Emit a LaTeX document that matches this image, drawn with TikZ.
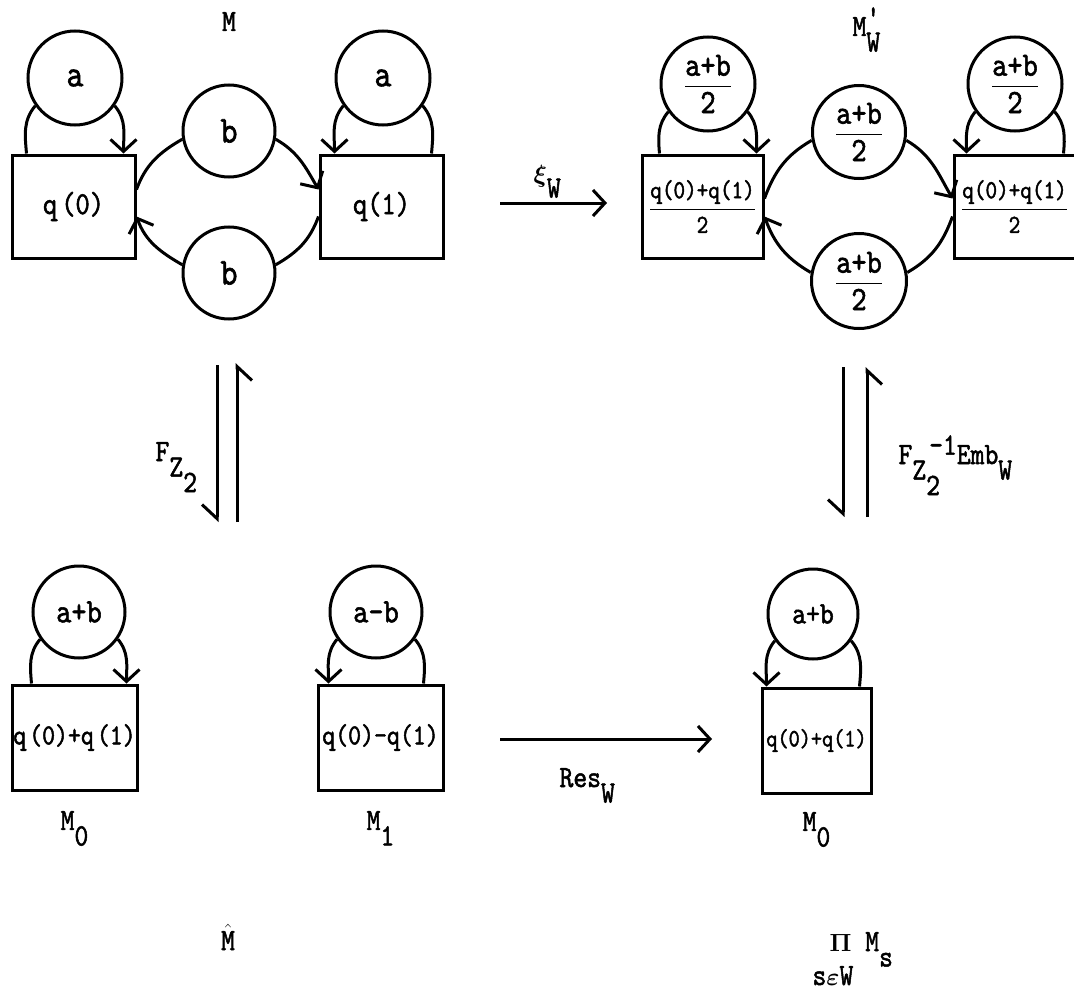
\documentclass[tikz,border=0pt]{standalone}
\usepackage{amsmath}
\usepackage{fontspec}
\usepackage{tikz}
\usetikzlibrary{arrows.meta, positioning}
\newfontfamily\tw{lmmono10-regular.otf}[FakeStretch=0.85, FakeBold=1.6]
\newcommand{\lo}[1]{\raisebox{-0.5em}{#1}}
\newcommand{\half}[1]{$\genfrac{}{}{1.6pt}{0}{\text{#1}}{\text{2}}$}
\newcommand{\fs}[1]{\fontsize{#1}{#1}\selectfont\tw}

\begin{document}
\begin{tikzpicture}[x=1pt, y=1pt,
        font=\fs{31},
        box/.style={draw, rectangle, line width=3pt, minimum width=123pt, minimum height=103pt, inner sep=0pt, font=\fs{29}},
        disc/.style={draw, circle, line width=3pt, minimum size=92pt, inner sep=0pt, font=\fs{34}},
        wire/.style={draw, line width=3pt},
        line/.style={wire, -{Straight Barb[length=12pt, width=26pt]}},
        half/.style={wire, -{Straight Barb[harpoon, swap, length=14pt, width=30pt]}}]

    \useasboundingbox (0,0) rectangle (1074,-990);

    % module M
    \node [anchor=base] at (229,-31) (labM) {M};
    \node [box, font=\fs{32}] at (73.5,-206.5) (q0) {q\kern4pt(0)};
    \node [box, font=\fs{32}] at (381.5,-206.5) (q1) {q(1)};
    \node [disc, font=\fs{38}, minimum size=94pt] at (75,-78) (a0) {a};
    \node [disc, font=\fs{38}, minimum size=94pt] at (383,-78) (a1) {a};
    \node [disc, font=\fs{38}] at (229,-131) (bt) {b};
    \node [disc, font=\fs{38}] at (229,-273) (bb) {b};

    % module M'_W
    \node [anchor=base west] at (849,-36) (labMW) {M\rlap{\raisebox{0.3em}{'}}\lo{W}};
    \node [box, font=\fs{26}, minimum width=121pt] at (702.5,-206.5) (p0) {\half{q(0)+q(1)}};
    \node [box, font=\fs{26}, minimum width=121pt] at (1014.5,-206.5) (p1) {\half{q(0)+q(1)}};
    \node [disc, minimum size=94pt] at (708,-84) (c0) {\half{a+b}};
    \node [disc, minimum size=94pt] at (1015,-84) (c1) {\half{a+b}};
    \node [disc, minimum size=93pt] at (859,-132) (ct) {\half{a+b}};
    \node [disc, minimum size=95pt] at (859,-281) (cb) {\half{a+b}};

    % modules M_0, M_1, M_0
    \node [disc] at (79,-612) (n0) {a+b};
    \node [box, minimum width=125pt, minimum height=105pt] at (74.5,-737.5) (r0) {q\kern3pt(0)+q\kern3pt(1)};
    \node [disc] at (376,-612) (n1) {a-b};
    \node [box, minimum width=125pt, minimum height=105pt] at (380.5,-737.5) (r1) {q(0)-q(1)};
    \node [disc, minimum size=90pt, font=\fs{31}] at (813,-614) (n2) {a+b};
    \node [box, minimum width=109pt, minimum height=105pt, font=\fs{25}] at (816.5,-740.5) (r2) {q(0)+q(1)};

    \node [below=16pt of r0] (m0) {M\lo{0}};
    \node [below=16pt of r1] (m1) {M\lo{1}};
    \node [below=14pt of r2] (m2) {M\lo{0}};
    \node [anchor=base] at (228,-950) (mhat) {$\hat{\text{M}}$};
    \node [anchor=base west] at (826,-951) (prod) {$\boldsymbol{\Pi}$\ M\lo{s}};
    \node [anchor=base west] at (809,-985) (prodidx) {s$\boldsymbol{\varepsilon}$W};

    % loops
    \foreach \c/\b in {a0/q0, c0/p0, n0/r0} {
        \draw [wire] (\c.west |- \b.north) to[out=95, in=230] (\c.215);
        \draw [line] (\c.-35) to[out=-50, in=90] (\c.east |- \b.north);
    }
    \foreach \c/\b in {a1/q1, c1/p1, n1/r1, n2/r2} {
        \draw [line] (\c.215) to[out=230, in=90] (\c.west |- \b.north);
        \draw [wire] (\c.east |- \b.north) to[out=85, in=-50] (\c.-35);
    }

    % connectors between the two states
    \foreach \l/\t/\b/\r/\u in {q0/bt/bb/q1/17, p0/ct/cb/p1/8} {
        \draw [wire] ([yshift=\u pt]\l.east) to[out=70, in=210] (\t.190);
        \draw [line] (\t.-10) to[out=-30, in=120] ([yshift=\u pt]\r.west);
        \draw [wire] ([yshift=-10pt]\r.west) to[out=-110, in=30] (\b.10);
        \draw [line] (\b.170) to[out=150, in=-70] ([yshift=-10pt]\l.east);
    }

    % maps
    \coordinate (xs) at (500,-203);
    \coordinate (xe) at (607,-203);
    \draw [line] (xs) -- (xe);
    \node [anchor=base west] at (530,-182) (labxi) {$\boldsymbol{\xi}$\lo{W}};

    \coordinate (fa) at (217,-365);
    \coordinate (fb) at (217,-522);
    \coordinate (fc) at (237,-522);
    \coordinate (fd) at (237,-363);
    \draw [half] (fa) -- (fb);
    \draw [half] (fc) -- (fd);
    \node [anchor=base west] at (152,-461) (labF) {F\lo{Z\lo{2}}};

    \coordinate (ga) at (843,-367);
    \coordinate (gb) at (843,-517);
    \coordinate (gc) at (867,-517);
    \coordinate (gd) at (867,-367);
    \draw [half] (ga) -- (gb);
    \draw [half] (gc) -- (gd);
    \node [anchor=base west] at (895,-464) (labE) {F\lo{Z\lo{2}}\kern-0.35em\raisebox{0.3em}{-1}Emb\lo{W}};

    \coordinate (rs) at (500,-739);
    \coordinate (re) at (712,-739);
    \draw [line] (rs) -- (re);
    \node [anchor=base west] at (556,-787) (labR) {Res\lo{W}};
\end{tikzpicture}
\end{document}
